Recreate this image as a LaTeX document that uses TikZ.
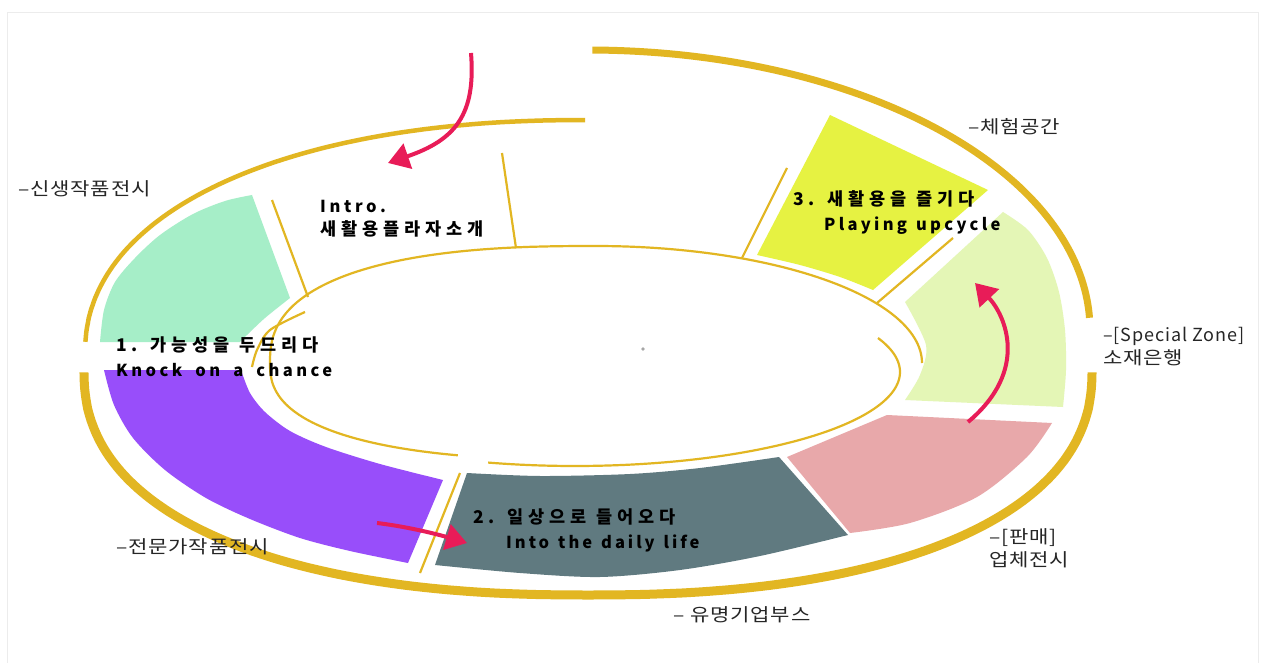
\documentclass[tikz,border=0pt]{standalone}
\usepackage{fontspec}
\newfontfamily\kr{Noto Sans CJK KR}
\usetikzlibrary{arrows.meta}
\definecolor{gold}{RGB}{226,182,34}
\definecolor{mintfill}{RGB}{166,238,200}
\definecolor{purplefill}{RGB}{152,78,250}
\definecolor{slatefill}{RGB}{96,122,128}
\definecolor{rosefill}{RGB}{232,168,170}
\definecolor{palefill}{RGB}{228,246,182}
\definecolor{lemonfill}{RGB}{230,242,66}
\definecolor{crimson}{RGB}{232,28,88}
\definecolor{framegray}{RGB}{236,236,236}
\newcommand\widelbl[1]{\scalebox{1.17}[1]{#1}}
\tikzset{
  goldarc/.style={draw=gold, line cap=butt},
  thinline/.style={draw=gold, line width=2.2pt},
  redarrow/.style={draw=crimson, line width=4pt, -{Triangle[length=21pt,width=26pt]}},
  lbl/.style={anchor=base west, inner sep=0pt, font={\kr\fontsize{18}{22}\selectfont\addfontfeature{LetterSpace=4}}, text=black!85},
  blbl/.style={anchor=base west, inner sep=0pt, font={\kr\bfseries\fontsize{17.5}{20}\selectfont\addfontfeature{LetterSpace=28}\spaceskip=10pt\relax}, text=black},
  elbl/.style={anchor=base west, inner sep=0pt, font={\kr\bfseries\fontsize{16.5}{20}\selectfont\addfontfeature{LetterSpace=18}\spaceskip=9pt\relax}, text=black},
}
\begin{document}
\begin{tikzpicture}[x=1pt,y=-1pt]
\useasboundingbox (0,0) rectangle (1269,663);
\fill[white] (0,0) rectangle (1269,663);
\draw[framegray, line width=1pt] (7,663) -- (7,13) -- (1258,13) -- (1258,663);

% colored zones
\fill[mintfill] (252,195) -- (290,298) -- plot[smooth] coordinates {(290,298) (265,318) (247,335) (240,342)} -- (100,342)
  -- plot[smooth] coordinates {(100,342) (104,310) (115,282) (135,258) (160,235) (193,214) (225,201) (252,195)} -- cycle;
\fill[purplefill] (104,370) -- (241,370) -- plot[smooth] coordinates {(241,370) (250,393) (265,412) (290,431) (326,447) (380,464) (443,480)}
  -- (408,563) -- plot[smooth] coordinates {(408,563) (350,551) (300,538) (250,519) (206,498) (165,470) (133,438) (114,405) (104,370)} -- cycle;
\fill[slatefill] (467,473) -- plot[smooth] coordinates {(467,473) (540,476) (630,474) (700,468) (779,457)} -- (848,535)
  -- plot[smooth] coordinates {(848,535) (760,556) (680,570) (600,577) (520,573) (435,565)} -- cycle;
\fill[rosefill] (787,457) -- (887,415) -- (1052,423) -- plot[smooth] coordinates {(1052,423) (1027,457) (977,497) (910,523) (850,533)} -- cycle;
\fill[palefill] (905,302) -- (1003,212) -- plot[smooth] coordinates {(1003,212) (1028,230) (1047,258) (1059,292) (1065,330) (1066,370) (1063,407)}
  -- (905,400) -- plot[smooth] coordinates {(905,400) (920,375) (926,345) (905,302)} -- cycle;
\fill[lemonfill] (830,115) -- (988,190) -- (873,290) -- plot[smooth] coordinates {(873,290) (840,277) (800,265) (757,255)} -- cycle;

% outer arcs
\draw[goldarc, line width=7pt] plot[domain=270.5:357.5, samples=90, variable=\t] ({588+502*cos(\t)}, {330+280*sin(\t)});
\draw[goldarc, line width=4.5pt] plot[domain=182.4:269.8, samples=90, variable=\t] ({588-503*abs(cos(\t))^0.909}, {355-235*abs(sin(\t))^0.909});
\draw[goldarc, line width=9pt] plot[domain=0.3:89.9, samples=90, variable=\t] ({588+504*abs(cos(\t))^0.87}, {370+225*abs(sin(\t))^0.87})
  -- plot[domain=90.1:179.7, samples=90, variable=\t] ({588-504*abs(cos(\t))^0.87}, {370+225*abs(sin(\t))^0.87});

% inner ring
\draw[thinline] plot[domain=110:179.9, samples=50, variable=\t] ({596-326*abs(cos(\t))^0.8}, {363+97*abs(sin(\t))^0.8})
  -- plot[domain=180.1:269.9, samples=60, variable=\t] ({596-326*abs(cos(\t))^0.8}, {363-117*abs(sin(\t))^0.8})
  -- plot[domain=270:360, samples=60, variable=\t] ({596+326*cos(\t)}, {363+117*sin(\t)});
\draw[thinline] plot[domain=-21.2:105.5, samples=90, variable=\t] ({575+325*cos(\t)}, {372+94*sin(\t)});
\draw[thinline] plot[smooth] coordinates {(305,312) (270,330) (257,350) (252,367)};

% dividers
\coordinate (d1a) at (272,200); \coordinate (d1b) at (308,297);
\coordinate (d2a) at (502,153); \coordinate (d2b) at (516,248);
\coordinate (d3a) at (787,168); \coordinate (d3b) at (742,258);
\coordinate (d4a) at (953,238); \coordinate (d4b) at (877,303);
\coordinate (d5a) at (460,473); \coordinate (d5b) at (420,573);
\draw[thinline] (d1a) -- (d1b);
\draw[thinline] (d2a) -- (d2b);
\draw[thinline] (d3a) -- (d3b);
\draw[thinline] (d4a) -- (d4b);
\draw[thinline] (d5a) -- (d5b);

% red arrows
\coordinate (a1s) at (471,53); \coordinate (a1e) at (388,163);
\coordinate (a2s) at (377,523); \coordinate (a2e) at (467,543);
\coordinate (a3s) at (968,422); \coordinate (a3e) at (975,283);
\draw[redarrow] (a1s) .. controls (476,115) and (455,140) .. (a1e);
\draw[redarrow] (a2s) .. controls (410,527) and (440,535) .. (a2e);
\draw[redarrow] (a3s) .. controls (1030,370) and (1005,315) .. (a3e);

% centre dot
\fill[black!35] (643,349) circle (1.8);

% labels
\node[lbl] (l1) at (18,196) {\widelbl{–신생작품전시}};
\node[elbl] (intro1) at (320,213) {\addfontfeature{LetterSpace=22}Intro.};
\node[blbl] (intro2) at (320,236) {새활용플라자소개};
\node[blbl] (s1a) at (116,351) {1. 가능성을 두드리다};
\node[elbl] (s1b) at (116,376) {\addfontfeature{LetterSpace=21}\spaceskip=13pt\relax Knock on a chance};
\node[lbl] (l2) at (116,553) {\widelbl{–전문가작품전시}};
\node[blbl] (s2a) at (473,523) {2. 일상으로 들어오다};
\node[elbl] (s2b) at (506,548) {Into the daily life};
\node[lbl] (l3) at (673,621) {\widelbl{– 유명기업부스}};
\node[lbl] (l4a) at (989,543) {\widelbl{–[판매]}};
\node[lbl] (l4b) at (989,566) {\widelbl{업체전시}};
\node[lbl] (l5a) at (1103,341) {\addfontfeature{LetterSpace=5}–[Special Zone]};
\node[lbl] (l5b) at (1103,364) {\widelbl{소재은행}};
\node[lbl] (l6) at (968,134) {\widelbl{–체험공간}};
\node[blbl] (s3a) at (793,206) {3. 새활용을 즐기다};
\node[elbl] (s3b) at (824,231) {\addfontfeature{LetterSpace=20}Playing upcycle};
\end{tikzpicture}
\end{document}
